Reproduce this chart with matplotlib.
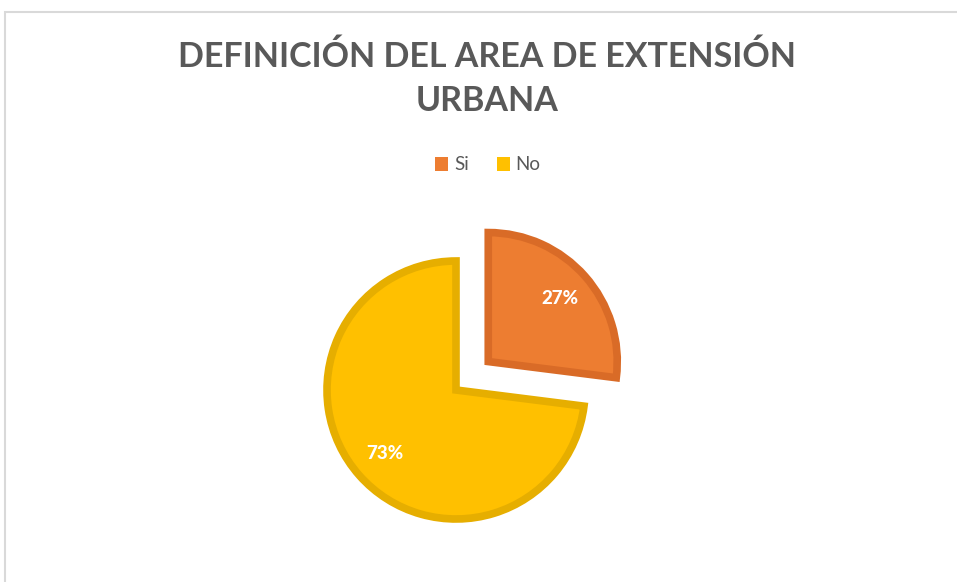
import matplotlib.pyplot as plt
from matplotlib.patches import Rectangle

# Chart data
labels = ["Si", "No"]
values = [27, 73]
colors = ["#ED7D31", "#FFC000"]
edge_colors = ["#D96B27", "#E6AE00"]
title = "DEFINICIÓN DEL AREA DE EXTENSIÓN\nURBANA"

W, H = 957, 582
fig = plt.figure(figsize=(W / 100, H / 100), dpi=100)
ax = fig.add_axes([0, 0, 1, 1])
ax.set_xlim(0, W)
ax.set_ylim(0, H)
ax.set_aspect("equal")
ax.axis("off")

# chart frame (only top & left edges visible in the crop)
fig.patches.append(Rectangle((5, -20), W + 40, H + 20 - 12, transform=None,
                             fill=False, edgecolor="#D9D9D9", linewidth=1.5))

font = "Lato"

# explode is in data units here (pixels)
wedges, texts, autotexts = ax.pie(
    values, colors=colors, startangle=90, counterclock=False,
    explode=[43, 0], center=(456, H - 390), radius=129,
    autopct="%d%%", pctdistance=0.74,
    wedgeprops=dict(linewidth=5.5),
    textprops=dict(color="white", fontsize=13.5, family=font),
)
for w, ec in zip(wedges, edge_colors):
    w.set_edgecolor(ec)
    w.set_joinstyle("miter")
for t in autotexts:
    t.set_fontweight("black")

ax.set_xlim(0, W)
ax.set_ylim(0, H)

fig.text(487 / W, 1 - 79 / H, title, ha="center", va="center",
         fontsize=24.5, fontweight="bold", color="#595959", family=font,
         linespacing=1.45)

leg = fig.legend(wedges, labels, loc="center", bbox_to_anchor=(488 / W, 1 - 165 / H),
                 ncol=2, frameon=False, handlelength=0.7, handleheight=0.7,
                 handletextpad=0.3, columnspacing=1.5,
                 prop=dict(family=font, size=13.5))
for t in leg.get_texts():
    t.set_color("#595959")
for h in leg.legend_handles:
    h.set_linewidth(0)

fig.savefig("out.png", dpi=100)
